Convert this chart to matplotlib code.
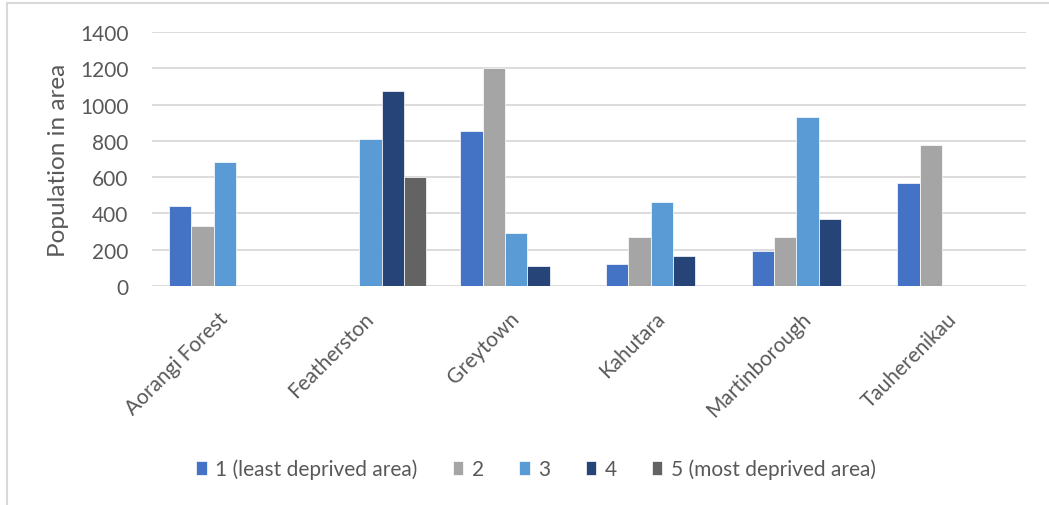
import numpy as np
import matplotlib
matplotlib.use("Agg")
import matplotlib.pyplot as plt
from matplotlib.lines import Line2D

areas = ["Aorangi Forest", "Featherston", "Greytown", "Kahutara",
         "Martinborough", "Tauherenikau"]
series_names = ["1 (least deprived area)", "2", "3", "4", "5 (most deprived area)"]

dep1 = [440, 0, 855, 122, 195, 567]
dep2 = [333, 0, 1200, 272, 271, 775]
dep3 = [683, 810, 293, 462, 930, 0]
dep4 = [0, 1074, 110, 164, 367, 0]
dep5 = [0, 600, 0, 0, 0, 0]

yticks = [0, 200, 400, 600, 800, 1000, 1200, 1400]

colors = ["#4472C4", "#A5A5A5", "#5B9BD5", "#264478", "#636363"]
text_color = "#595959"
grid_color = "#D9D9D9"

plt.rcParams["font.family"] = ["Lato", "DejaVu Sans"]


def main():
    fig = plt.figure(figsize=(10.49, 5.06), dpi=100)
    ax = fig.add_axes([0.1449, 0.4328, 0.8332, 0.502])

    x = np.arange(len(areas))
    width = 0.153
    all_series = [dep1, dep2, dep3, dep4, dep5]
    for j, (vals, name, col) in enumerate(zip(all_series, series_names, colors)):
        vals = np.array(vals, dtype=float)
        vals[vals == 0] = np.nan
        ax.bar(x + (j - 2) * width, vals, width, color=col, label=name,
               edgecolor="white", linewidth=0.5, zorder=3)

    ax.set_xlim(-0.5, len(areas) - 0.5)
    ax.set_ylim(0, 1400)
    ax.set_yticks(yticks)
    ax.set_yticklabels([str(t) for t in yticks])
    ax.set_xticks(x)
    ax.set_xticklabels(areas, rotation=45, ha="right", va="center",
                       rotation_mode="anchor")

    ax.yaxis.grid(True, color=grid_color, linewidth=1.3, zorder=0)
    ax.set_axisbelow(True)
    for s in ax.spines.values():
        s.set_visible(False)
    ax.tick_params(axis="y", length=0, pad=17, labelsize=15, labelcolor=text_color)
    ax.tick_params(axis="x", length=0, pad=21, labelsize=15, labelcolor=text_color)
    ax.set_ylabel("Population in area", fontsize=17.5, color=text_color, labelpad=8)

    handles, labels = ax.get_legend_handles_labels()
    fig.legend(handles, labels, loc="center", bbox_to_anchor=(0.511, 0.072),
               ncol=5, frameon=False, fontsize=15, labelcolor=text_color,
               handlelength=0.5, handleheight=0.65, handletextpad=0.4,
               columnspacing=1.7)

    # chart frame (left and top edges)
    fig.add_artist(Line2D([7 / 1049, 7 / 1049], [0, 1 - 4 / 506],
                          transform=fig.transFigure, color=grid_color, linewidth=1.5))
    fig.add_artist(Line2D([7 / 1049, 1], [1 - 4 / 506, 1 - 4 / 506],
                          transform=fig.transFigure, color=grid_color, linewidth=1.5))

    fig.savefig("out.png", dpi=100)


if __name__ == "__main__":
    main()
